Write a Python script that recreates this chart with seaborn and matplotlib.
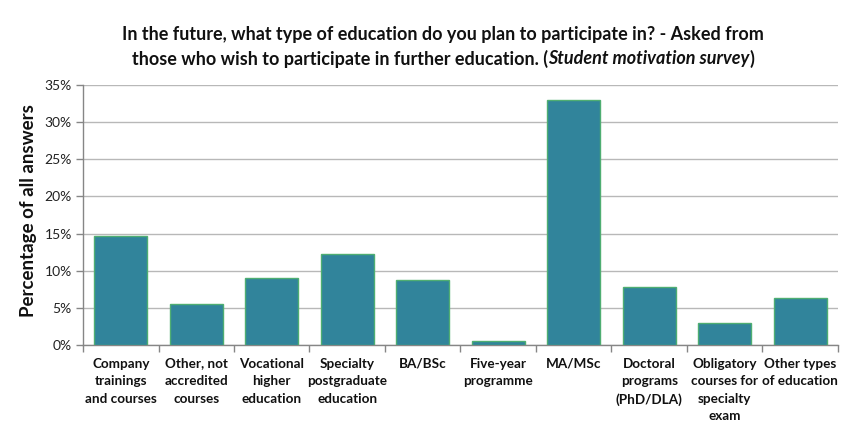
import pandas as pd
import seaborn as sns
import matplotlib.pyplot as plt
from matplotlib.ticker import PercentFormatter, FixedLocator

categories = [
    "Company\ntrainings\nand courses",
    "Other, not\naccredited\ncourses",
    "Vocational\nhigher\neducation",
    "Specialty\npostgraduate\neducation",
    "BA/BSc",
    "Five-year\nprogramme",
    "MA/MSc",
    "Doctoral\nprograms\n(PhD/DLA)",
    "Obligatory\ncourses for\nspecialty\nexam",
    "Other types\nof education",
]
shares = [14.7, 5.5, 9.0, 12.2, 8.7, 0.6, 33.0, 7.8, 2.9, 6.3]

df = pd.DataFrame({"type": categories, "share": shares})

sns.set_theme(style="white")
plt.rcParams["font.family"] = ["Lato", "DejaVu Sans"]

fig = plt.figure(figsize=(8.41, 4.26), dpi=100)
ax = fig.add_axes([0.0987, 0.19, 0.8977, 0.611])

sns.barplot(data=df, x="type", y="share", color="#31849b", saturation=1,
            width=0.7, edgecolor="#4fae72", linewidth=1.0, ax=ax, zorder=3)

ax.set_ylim(0, 35)
ax.set_xlim(-0.5, len(categories) - 0.5)
ax.set_yticks(range(0, 36, 5))
ax.yaxis.set_major_formatter(PercentFormatter(decimals=0))
ax.grid(axis="y", color="#b8b8b8", linewidth=1.0, zorder=0)
ax.set_axisbelow(True)

for s in ["top", "right"]:
    ax.spines[s].set_visible(False)
for s in ["left", "bottom"]:
    ax.spines[s].set_color("#868686")
    ax.spines[s].set_linewidth(1.0)

ax.tick_params(axis="y", which="major", left=True, length=5, width=1,
               color="#868686", labelsize=10, labelcolor="#222222", pad=3)
ax.tick_params(axis="x", which="major", length=0, labelsize=9.7, pad=9)
ax.xaxis.set_minor_locator(FixedLocator([i + 0.5 for i in range(-1, len(categories))]))
ax.tick_params(axis="x", which="minor", bottom=True, length=5, width=1, color="#868686")

for lab in ax.get_xticklabels():
    lab.set_fontweight("bold")
    lab.set_linespacing(1.55)
    lab.set_color("#111111")

ax.set_xlabel("")
ax.set_ylabel("Percentage of all answers", fontsize=13.5, fontweight="bold",
              color="#111111", labelpad=8)
ax.yaxis.set_label_coords(-0.061, 0.515)

# title, with the italic survey name on the second line
cx = 0.527
fig.text(cx, 0.918, "In the future, what type of education do you plan to participate in? - Asked from",
         ha="center", va="center", fontsize=13, fontweight="bold", color="#111111")
parts = [("those who wish to participate in further education. (", "normal"),
         ("Student motivation survey", "italic"),
         (")", "normal")]
renderer = fig.canvas.get_renderer()
texts = [fig.text(0, 0.862, p, ha="left", va="center", fontsize=13, fontweight="bold",
                  style=st, color="#111111") for p, st in parts]
widths = [t.get_window_extent(renderer).width / fig.bbox.width for t in texts]
x = cx - sum(widths) / 2
for t, w in zip(texts, widths):
    t.set_x(x)
    x += w

fig.savefig("out.png", dpi=100)
